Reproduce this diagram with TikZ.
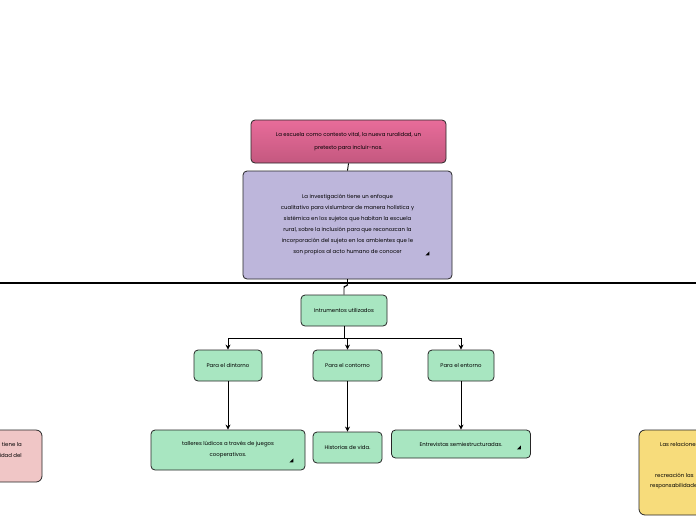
\documentclass[tikz,border=0pt]{standalone}
\usepackage{fontspec}
\setmainfont{Poppins}
\usetikzlibrary{arrows.meta,calc}
\definecolor{rosaalto}{HTML}{E86C9A}
\definecolor{rosabajo}{HTML}{C4587F}
\definecolor{lila}{HTML}{BDB6DB}
\definecolor{menta}{HTML}{A8E6C1}
\definecolor{salmon}{HTML}{F0C6C6}
\definecolor{amarillo}{HTML}{F7DC7B}
\begin{document}
\begin{tikzpicture}[x=1pt,y=-1pt,
    caja/.style={draw=black!85, line width=.8pt, rounded corners=4pt, align=center, inner sep=0pt,
      font=\fontsize{5.4}{11}\selectfont},
    verde/.style={caja, fill=menta},
    flecha/.style={line width=.9pt, -{Stealth[length=5pt,width=5pt]}},
    marca/.style={fill=black}]
            \useasboundingbox (0,0) rectangle (696,520);
            \clip (0,0) rectangle (696,520);
            \node[caja, top color=rosaalto, bottom color=rosabajo, minimum width=195pt, minimum height=43pt,
              font=\fontsize{5.4}{13}\selectfont] (escuela) at (348.5,141.5)
              {La escuela como contexto vital, la nueva ruralidad, un\\ pretexto para incluir-nos.};
            \node[caja, fill=lila, minimum width=209pt, minimum height=108pt] (inv) at (347.5,225)
              {La investigación tiene un enfoque\\ cualitativo para vislumbrar de manera holística y\\
               sistémica en los sujetos que habitan la escuela\\ rural, sobre la inclusión para que reconozcan la\\
               incorporación del sujeto en los ambientes que le\\ son propios al acto humano de conocer};
            \node[verde, minimum width=86pt, minimum height=31pt] (instr) at (344,310.5) {Intrumentos utilizados};
            \node[verde, minimum width=68pt, minimum height=31pt] (dint) at (228,365.5) {Para el dintorno};
            \node[verde, minimum width=69pt, minimum height=31pt] (cont) at (347.5,365.5) {Para el contorno};
            \node[verde, minimum width=66pt, minimum height=31pt] (ent) at (461,365.5) {Para el entorno};
            \node[verde, minimum width=154pt, minimum height=40pt] (talleres) at (228,450)
              {talleres lúdicos a través de juegos\\ cooperativos.};
            \node[verde, minimum width=69pt, minimum height=31pt] (hist) at (347.5,447.5) {Historias de vida.};
            \node[verde, minimum width=139pt, minimum height=28pt] (entrev) at (461,444) {Entrevistas semiestructuradas.};
            \node[caja, rounded corners=6pt, fill=salmon, minimum width=62pt, minimum height=52pt] (izq) at (11,456) {};
            \node[anchor=north east, align=right, inner sep=0pt, font=\fontsize{5.4}{11}\selectfont] (izqtxt) at (22,442)
              {tiene la\\ ulidad del};
            \node[caja, rounded corners=6pt, fill=amarillo, minimum width=120pt, minimum height=85pt] (der) at (699,472.5) {};
            \node[anchor=north west, align=left, inner sep=0pt, font=\fontsize{5.4}{11}\selectfont] (dertxt1) at (660,442)
              {Las relaciones};
            \node[anchor=north west, align=left, inner sep=0pt, font=\fontsize{5.4}{11}\selectfont] (dertxt2) at (655,473)
              {recreación las\\[-.5pt]\hspace*{-5pt}responsabilidades};
            % marcas de nota
            \fill[marca] ($(inv.south east)+(-27,-24)$) -- ++(4,0) -- ++(0,-4) -- cycle;
            \fill[marca] ($(talleres.south east)+(-16,-8)$) -- ++(4,0) -- ++(0,-4) -- cycle;
            \fill[marca] ($(entrev.south east)+(-14,-9)$) -- ++(4,0) -- ++(0,-4) -- cycle;
            % conectores
            \coordinate (ejeizq) at (0,283); \coordinate (ejeder) at (696,283);
            \coordinate (cruce) at (inv.south |- ejeizq);
            \draw[line width=1.1pt] (ejeizq) -- (ejeder);
            \draw[line width=.9pt] (escuela.south) -- (inv.north);
            \draw[line width=.9pt] (inv.south) -- (cruce);
            \draw[line width=.9pt, rounded corners=2pt] (cruce) -- ++(0,3) -| (instr.north);
            \draw[line width=.9pt] (instr.south) -- ++(0,12) coordinate (rama);
            \draw[flecha] (rama) -| (dint.north);
            \draw[flecha] (rama) -| (cont.north);
            \draw[flecha] (rama) -| (ent.north);
            \draw[flecha] (dint.south) -- (talleres.north);
            \draw[flecha] (cont.south) -- (hist.north);
            \draw[flecha] (ent.south) -- (entrev.north);
        \end{tikzpicture}
\end{document}
